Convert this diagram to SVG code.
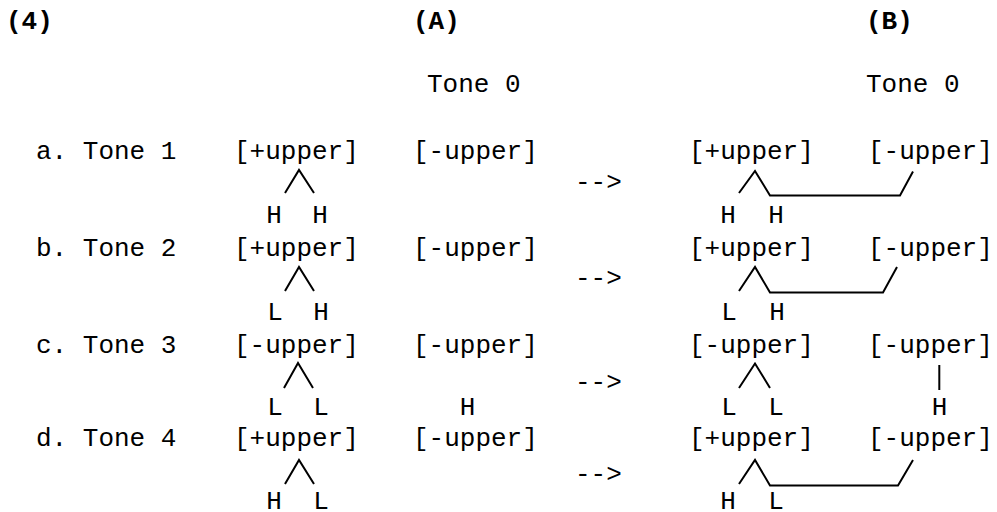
<svg xmlns="http://www.w3.org/2000/svg" width="997" height="512" viewBox="0 0 997 512">
<style>
text{font-family:"Liberation Mono","DejaVu Sans Mono",monospace;font-size:26px;fill:#000}
.b{font-weight:bold}
.m{text-anchor:middle}
.ln{fill:none;stroke:#000;stroke-width:2;stroke-linejoin:miter}
</style>
<rect width="997" height="512" fill="#fff"/>
<g id="header">
<text class="b" x="6" y="29">(4)</text>
<text class="b" x="413" y="29">(A)</text>
<text class="b" x="866" y="29">(B)</text>
<text x="427" y="92">Tone 0</text>
<text x="866" y="92">Tone 0</text>
</g>
<g id="row-a">
<text x="36" y="159">a. Tone 1</text>
<text x="234" y="159">[+upper]</text>
<text x="413" y="159">[-upper]</text>
<text x="575" y="190">--&gt;</text>
<text x="689" y="159">[+upper]</text>
<text x="868" y="159">[-upper]</text>
<text class="m" x="274" y="222.5">H</text>
<text class="m" x="320" y="222.5">H</text>
<text class="m" x="728" y="222.5">H</text>
<text class="m" x="776" y="222.5">H</text>
</g>
<g id="row-b">
<text x="36" y="255.7">b. Tone 2</text>
<text x="234" y="255.7">[+upper]</text>
<text x="413" y="255.7">[-upper]</text>
<text x="575" y="286">--&gt;</text>
<text x="689" y="255.7">[+upper]</text>
<text x="868" y="255.7">[-upper]</text>
<text class="m" x="275" y="320">L</text>
<text class="m" x="321" y="320">H</text>
<text class="m" x="729" y="320">L</text>
<text class="m" x="777" y="320">H</text>
</g>
<g id="row-c">
<text x="36" y="353.3">c. Tone 3</text>
<text x="234" y="353.3">[-upper]</text>
<text x="413" y="353.3">[-upper]</text>
<text x="575" y="390">--&gt;</text>
<text x="689" y="353.3">[-upper]</text>
<text x="868" y="353.3">[-upper]</text>
<text class="m" x="275" y="415">L</text>
<text class="m" x="321" y="415">L</text>
<text class="m" x="467.5" y="415">H</text>
<text class="m" x="729" y="415">L</text>
<text class="m" x="776" y="415">L</text>
<text class="m" x="939.5" y="415">H</text>
</g>
<g id="row-d">
<text x="36" y="446">d. Tone 4</text>
<text x="234" y="446">[+upper]</text>
<text x="413" y="446">[-upper]</text>
<text x="575" y="482">--&gt;</text>
<text x="689" y="446">[+upper]</text>
<text x="868" y="446">[-upper]</text>
<text class="m" x="274" y="509">H</text>
<text class="m" x="321" y="509">L</text>
<text class="m" x="728" y="509">H</text>
<text class="m" x="776" y="509">L</text>
</g>
<g id="connectors">
<polyline class="ln" points="285,193 299,170 314,193"/>
<polyline class="ln" points="739,193 755,171 770,195.5 900,195.5 913,171.5"/>
<polyline class="ln" points="285,291 299,267 314,291"/>
<polyline class="ln" points="739,291 755,267 770,292.5 883,292.5 897,267"/>
<polyline class="ln" points="284,388 298,363 313,388"/>
<polyline class="ln" points="739,388 755,363.5 770,388"/>
<line class="ln" x1="939.3" y1="365" x2="939.3" y2="390"/>
<polyline class="ln" points="285,484 299,460 314,484"/>
<polyline class="ln" points="739,484 755,460 770,485.5 898,485.5 913,460"/>
</g>
</svg>
